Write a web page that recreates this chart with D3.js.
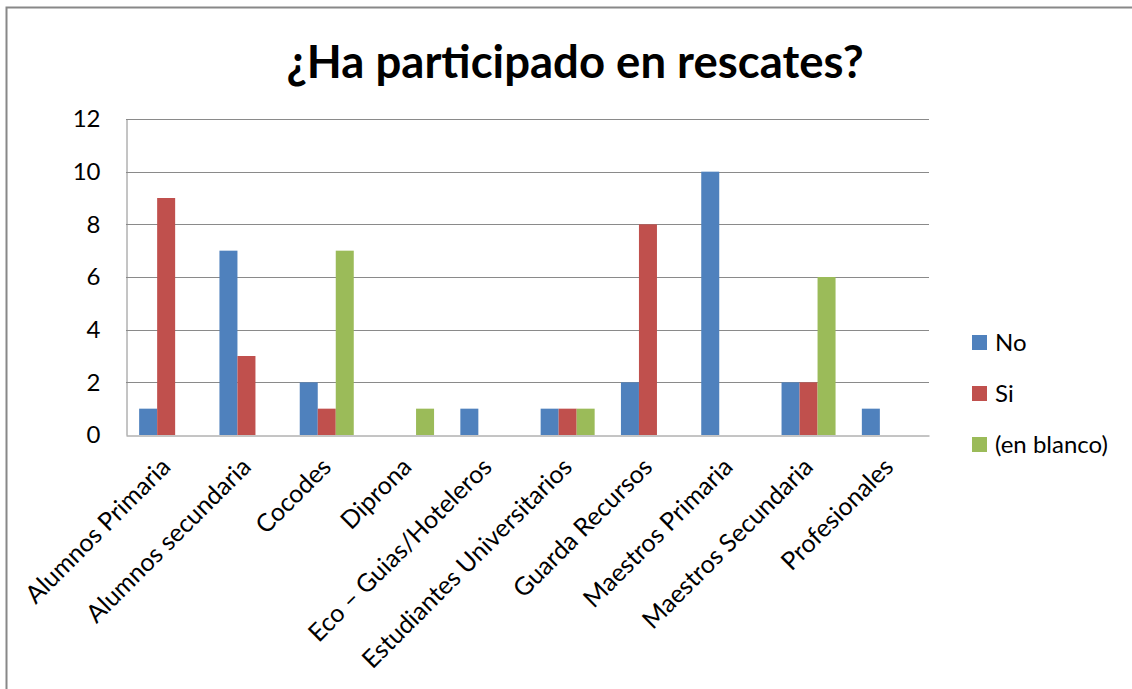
<!DOCTYPE html>
<html>
<head>
<meta charset="utf-8">
<script src="https://cdn.jsdelivr.net/npm/d3@7"></script>
<style>
  html, body { margin: 0; padding: 0; background: #fff; }
  svg { display: block; }
  text { font-family: Lato, "Open Sans", sans-serif; fill: #000; }
</style>
</head>
<body>
<svg id="chart" width="1132" height="689"></svg>
<script>
// Survey answers per group
const categories = [
  "Alumnos Primaria", "Alumnos secundaria", "Cocodes", "Diprona",
  "Eco \u2013 Guias/Hoteleros", "Estudiantes Universitarios", "Guarda Recursos",
  "Maestros Primaria", "Maestros Secundaria", "Profesionales"
];
const seriesNames = ["No", "Si", "(en blanco)"];
const noValues     = [1, 7, 2, 0, 1, 1, 2, 10, 2, 1];
const siValues     = [9, 3, 1, 0, 0, 1, 8, 0, 2, 0];
const blancoValues = [0, 0, 7, 1, 0, 1, 0, 0, 6, 0];
const yTicks = [0, 2, 4, 6, 8, 10, 12];
const colors = ["#4F81BD", "#C0504D", "#9BBB59"];
const titleText = "\u00BFHa participado en rescates?";

const seriesValues = [noValues, siValues, blancoValues];

const svg = d3.select("#chart");

// Outer frame
svg.append("rect")
  .attr("x", 6.5).attr("y", 7.5)
  .attr("width", 1200).attr("height", 800)
  .attr("fill", "none")
  .attr("stroke", "#888")
  .attr("stroke-width", 2);

const plot = { left: 126, right: 929, top: 119, bottom: 435 };

const x0 = d3.scaleBand()
  .domain(categories)
  .range([plot.left, plot.right])
  .padding(0);

const x1 = d3.scaleBand()
  .domain(seriesNames)
  .range([0, x0.bandwidth()])
  .paddingInner(0)
  .paddingOuter(0.73);

const y = d3.scaleLinear()
  .domain([0, 12])
  .range([plot.bottom, plot.top]);

// Gridlines
svg.append("g")
  .selectAll("line")
  .data(yTicks.filter(d => d > 0))
  .join("line")
  .attr("x1", plot.left).attr("x2", plot.right)
  .attr("y1", d => Math.round(y(d)) + 0.5)
  .attr("y2", d => Math.round(y(d)) + 0.5)
  .attr("stroke", "#8a8a8a")
  .attr("stroke-width", 1);

// Y axis
const yAxis = svg.append("g")
  .attr("transform", `translate(${plot.left + 0.5},0)`)
  .call(d3.axisLeft(y).tickValues(yTicks).tickSize(0).tickPadding(26));
yAxis.select(".domain").attr("stroke", "#8a8a8a");
yAxis.selectAll("text")
  .style("font-family", "Lato, 'Open Sans', sans-serif")
  .style("font-size", "24px")
  .attr("fill", "#000");

// Bars
const groups = svg.append("g")
  .selectAll("g")
  .data(categories)
  .join("g")
  .attr("transform", d => `translate(${x0(d)},0)`);

groups.selectAll("rect")
  .data((d, i) => seriesNames.map((s, j) => ({ s, v: seriesValues[j][i], c: colors[j] })))
  .join("rect")
  .filter(d => d.v > 0)
  .attr("x", d => x1(d.s))
  .attr("y", d => y(d.v))
  .attr("width", x1.bandwidth())
  .attr("height", d => y(0) - y(d.v))
  .attr("fill", d => d.c);

// X axis
const xAxis = svg.append("g")
  .attr("transform", `translate(0,${plot.bottom + 0.5})`)
  .call(d3.axisBottom(x0).tickSize(0).tickPadding(0));
xAxis.select(".domain").attr("stroke", "#8a8a8a");
xAxis.selectAll("text")
  .style("font-family", "Lato, 'Open Sans', sans-serif")
  .style("font-size", "25px")
  .attr("fill", "#000")
  .attr("text-anchor", "end")
  .attr("dy", null)
  .attr("y", 0)
  .attr("transform", "translate(6,33) rotate(-45)");

// Title
svg.append("text")
  .attr("x", 575)
  .attr("y", 78)
  .attr("text-anchor", "middle")
  .style("font-size", "45.5px")
  .style("font-weight", "bold")
  .text(titleText);

// Legend
const legend = svg.append("g")
  .selectAll("g")
  .data(seriesNames)
  .join("g")
  .attr("transform", (d, i) => `translate(972,${335 + i * 51})`);
legend.append("rect")
  .attr("width", 15).attr("height", 15)
  .attr("fill", (d, i) => colors[i]);
legend.append("text")
  .attr("x", 23)
  .attr("y", 16)
  .style("font-size", "24px")
  .text(d => d);
</script>
</body>
</html>
